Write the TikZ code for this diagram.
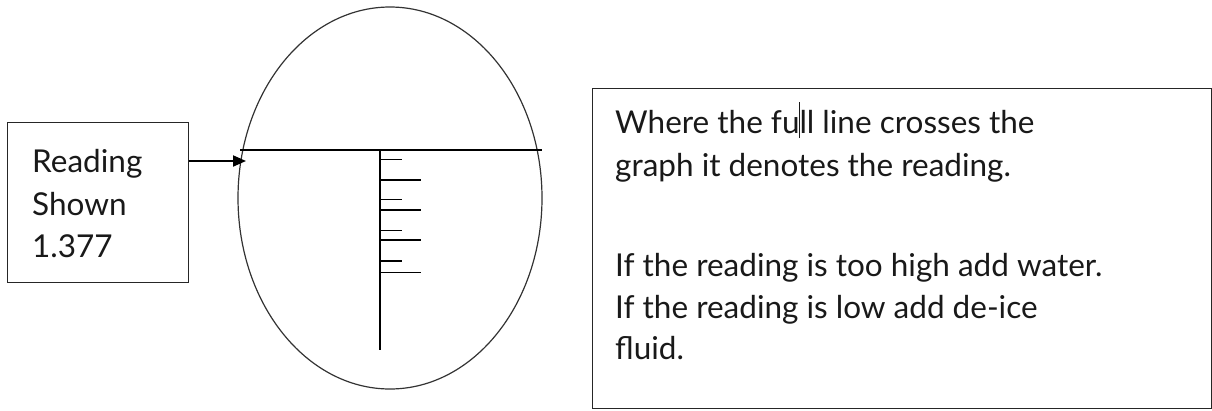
\documentclass[tikz,border=0pt]{standalone}
\usepackage{fontspec}
\setmainfont{Lato}
\usetikzlibrary{shapes.geometric,arrows.meta}
\tikzset{
  framebox/.style={draw=black!85, line width=1.4pt, inner sep=0pt},
  txt/.style={font=\fontsize{31.5}{43}\selectfont, inner sep=0pt, anchor=base west, text=black!90},
  scaleline/.style={draw=black, line width=1.4pt},
  lens/.style={draw=black!80, line width=1.2pt, ellipse, minimum width=304pt, minimum height=382pt, inner sep=0pt},
}
\begin{document}
\begin{tikzpicture}[x=1pt,y=-1pt]
\useasboundingbox (0,0) rectangle (1212,410);
% left box
\node[framebox, minimum width=181pt, minimum height=160pt, anchor=north west] (reading) at (7,122) {};
\node[txt] (r1) at (32,172) {Reading};
\node[txt] (r2) at (32,215) {Shown};
\node[txt] (r3) at (32,257) {1.377};
% eyepiece
\node[lens] (eyepiece) at (390,198) {};
\coordinate (hl) at (240,150);
\coordinate (hr) at (542,150);
\coordinate (vt) at (380,150);
\coordinate (vb) at (380,350);
\draw[scaleline] (hl) -- (hr);
\draw[scaleline] (vt) -- (vb);
\foreach \y/\l in {159.3/22, 180/41, 199.3/22, 210/41, 230.7/22, 240/41, 261/22, 272.3/41}
  \draw[scaleline, line width=1.3pt] (380,\y) -- ++(\l,0);
% arrow
\coordinate (tip) at (246,161);
\draw[line width=2pt, -{Triangle[length=13pt,width=11pt]}] (reading.east |- tip) -- (tip);
% right box
\node[framebox, minimum width=619pt, minimum height=320pt, anchor=north west] (note) at (592,88) {};
\node[txt] (l1) at (615,133) {Where the fu\makebox[0pt]{\rule[-5pt]{1.2pt}{36pt}}ll line crosses the};
\node[txt] (l2) at (615,176) {graph it denotes the reading.};
\node[txt] (l3) at (615,276) {If the reading is too high add water.};
\node[txt] (l4) at (615,318) {If the reading is low add de-ice};
\node[txt] (l5) at (615,359) {fluid.};
\end{tikzpicture}
\end{document}
